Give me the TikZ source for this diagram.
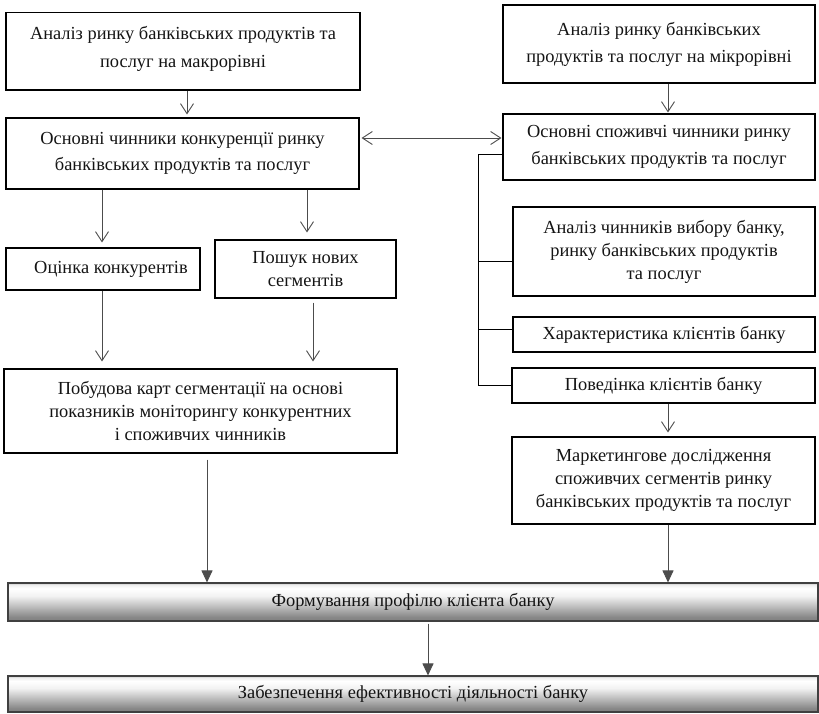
\documentclass[tikz,border=0pt]{standalone}
\usepackage{fontspec}
\setmainfont{Liberation Serif}
\usetikzlibrary{arrows.meta}

% light top, grey bottom, as on a raised bar
\pgfdeclareverticalshading{barshade}{100bp}{%
  color(0bp)=(black!50); color(25bp)=(black!50); color(30bp)=(black!47);
  color(58bp)=(white!95!black); color(68bp)=(white); color(73bp)=(white!93!black);
  color(75bp)=(black!25); color(100bp)=(black!25)}

\tikzset{
  box/.style={draw=black, line width=1.1pt, inner sep=0pt, align=center,
    text=black!92, font=\rmfamily\fontsize{18.4}{23}\selectfont},
  tall/.style={font=\rmfamily\fontsize{18.4}{26.5}\selectfont},
  bar/.style={box, draw=black!75, shading=barshade},
  openarr/.style={draw=black!70, line width=0.9pt,
    -{Straight Barb[length=10pt,width=13pt]}},
  bothopen/.style={draw=black!70, line width=0.9pt,
    {Straight Barb[length=10pt,width=13pt]}-{Straight Barb[length=10pt,width=13pt]}},
  fillarr/.style={draw=black!70, line width=0.9pt,
    -{Triangle[length=12pt,width=11pt]}},
  link/.style={draw=black, line width=1pt}
}

\begin{document}
\begin{tikzpicture}[x=1pt,y=-1pt]
\useasboundingbox (0,0) rectangle (819,713);

% boxes
\node[box,tall,minimum width=354pt,minimum height=77.3pt] (macro) at (183,51.35)
  {\raisebox{9pt}{\shortstack{Аналіз ринку банківських продуктів та\\[8pt]послуг на макрорівні}}};
\node[box,tall,minimum width=312pt,minimum height=78pt] (micro) at (659,44)
  {\raisebox{3pt}{\shortstack{Аналіз ринку банківських\\[8pt]продуктів та послуг на мікрорівні}}};
\node[box,tall,minimum width=353pt,minimum height=71pt] (compet) at (182.5,153.5)
  {Основні чинники конкуренції ринку\\банківських продуктів та послуг};
\node[box,tall,minimum width=312pt,minimum height=66pt] (consum) at (659,147)
  {Основні споживчі чинники ринку\\банківських продуктів та послуг};
\node[box,minimum width=194pt,minimum height=42pt] (rivals) at (103,269)
  {\hspace{16pt}Оцінка конкурентів};
\node[box,minimum width=181pt,minimum height=58pt] (search) at (305.5,269)
  {Пошук нових\\сегментів};
\node[box,minimum width=302pt,minimum height=89pt] (choice) at (664,251.5)
  {Аналіз чинників вибору банку,\\ринку банківських продуктів\\та послуг};
\node[box,minimum width=302pt,minimum height=35pt] (clients) at (664,334.5)
  {Характеристика клієнтів банку};
\node[box,minimum width=303pt,minimum height=35pt] (behav) at (663.5,385.5)
  {Поведінка клієнтів банку};
\node[box,minimum width=303pt,minimum height=87pt] (market) at (663.5,480.5)
  {Маркетингове дослідження\\споживчих сегментів ринку\\банківських продуктів та послуг};
\node[box,minimum width=393pt,minimum height=84pt] (maps) at (200.5,411)
  {Побудова карт сегментації на основі\\показників моніторингу конкурентних\\і споживчих чинників};
\node[bar,minimum width=810pt,minimum height=38pt] (profile) at (413,602)
  {Формування профілю клієнта банку};
\node[bar,minimum width=810pt,minimum height=36pt] (effic) at (413,694)
  {Забезпечення ефективності діяльності банку};

% vertical positions of the connectors
\coordinate (xa) at (187,0);
\coordinate (xb) at (668,0);
\coordinate (xc) at (102,0);
\coordinate (xd) at (307,0);
\coordinate (xe) at (313,0);
\coordinate (xf) at (207,0);
\coordinate (xg) at (428,0);
\coordinate (ya) at (0,138);

% open arrows
\draw[openarr, shorten >=3pt] (macro.south -| xa) -- (compet.north -| xa);
\draw[openarr, shorten >=1pt] (micro.south -| xb) -- (consum.north -| xb);
\draw[bothopen, shorten <=2pt, shorten >=1pt] (compet.east |- ya) -- (consum.west |- ya);
\draw[openarr, shorten >=5pt] (compet.south -| xc) -- (rivals.north -| xc);
\draw[openarr, shorten >=7pt] (compet.south -| xd) -- (search.north -| xd);
\draw[openarr, shorten >=7pt] (rivals.south -| xc) -- (maps.north -| xc);
\draw[openarr, shorten <=4pt, shorten >=7pt] (search.south -| xe) -- (maps.north -| xe);
\draw[openarr, shorten >=4pt] (behav.south -| xb) -- (market.north -| xb);

% filled arrows into the bars
\draw[fillarr, shorten <=6pt] (maps.south -| xf) -- (profile.north -| xf);
\draw[fillarr] (market.south -| xb) -- (profile.north -| xb);
\draw[fillarr, shorten <=2pt] (profile.south -| xg) -- (effic.north -| xg);

% bracket joining the consumer factors
\coordinate (b0) at (478,154);
\coordinate (b1) at (478,261);
\coordinate (b2) at (478,329);
\draw[link] (consum.west |- b0) -- (b0) -- (b0 |- behav.west) -- (behav.west);
\draw[link] (b1) -- (b1 -| choice.west);
\draw[link] (b2) -- (b2 -| clients.west);
\end{tikzpicture}
\end{document}
